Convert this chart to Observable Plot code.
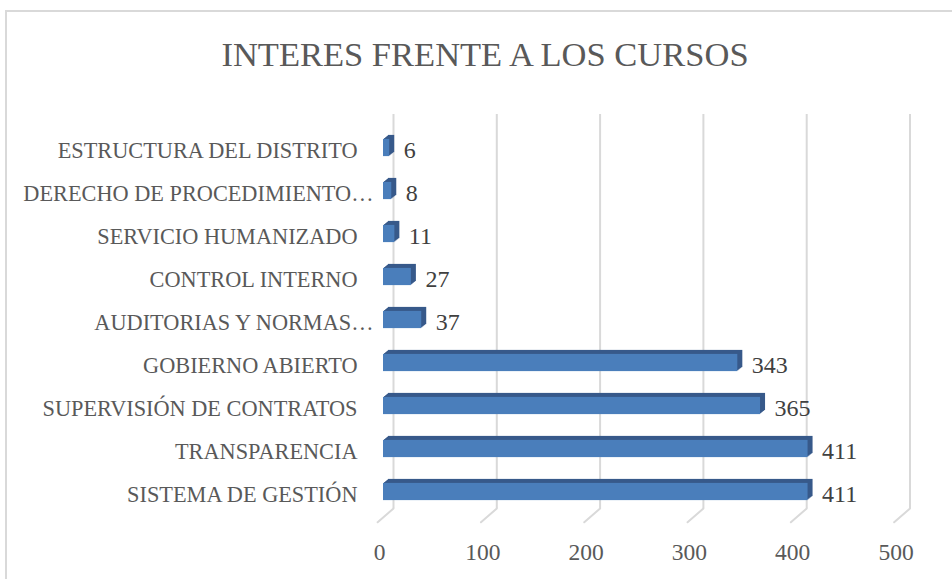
<!DOCTYPE html>
<html><head><meta charset="utf-8">
<script src="https://cdn.jsdelivr.net/npm/d3@7"></script>
<script src="https://cdn.jsdelivr.net/npm/@observablehq/plot@0.6"></script>
<style>
html,body{margin:0;padding:0;background:#fff;width:952px;height:579px;overflow:hidden;}
#frame{position:absolute;left:5px;top:10px;width:1000px;height:1000px;border-left:2px solid #d9d9d9;border-top:2px solid #d9d9d9;}
#title{position:absolute;left:0;width:970px;top:37px;text-align:center;font-family:"Liberation Serif";font-size:34.5px;line-height:34px;color:#595959;white-space:nowrap;}
#chart{position:absolute;left:0;top:90px;}
</style></head><body>
<div id="frame"></div>
<div id="title">INTERES FRENTE A LOS CURSOS</div>
<div id="chart"></div>
<script>
const categories = [
  "ESTRUCTURA DEL DISTRITO",
  "DERECHO DE PROCEDIMIENTO…",
  "SERVICIO HUMANIZADO",
  "CONTROL INTERNO",
  "AUDITORIAS Y NORMAS…",
  "GOBIERNO ABIERTO",
  "SUPERVISIÓN DE CONTRATOS",
  "TRANSPARENCIA",
  "SISTEMA DE GESTIÓN"
];
const values = [6, 8, 11, 27, 37, 343, 365, 411, 411];
const xTicks = [0, 100, 200, 300, 400, 500];

const data = categories.map((c, i) => ({cat: c, value: values[i]}));
const fullLabels = categories.filter(c => !c.endsWith("…"));
const cutLabels = categories.filter(c => c.endsWith("…"));
const inset = 12.9;
const extrude = [1, 2, 3, 4, 5].map(k =>
  Plot.barX(data, {x: "value", y: "cat", fill: "#37598a", insetTop: inset, insetBottom: inset, dx: k, dy: -0.8 * k})
);

const chart = Plot.plot({
  width: 952,
  height: 489,
  marginLeft: 383,
  marginRight: 52.5,
  marginTop: 24,
  marginBottom: 71,
  style: {fontFamily: "Liberation Serif", fontSize: "22px", color: "#595959", background: "transparent"},
  x: {domain: [0, 500]},
  y: {domain: categories, range: [32.6, 426.9], padding: 0},
  marks: [
    Plot.ruleX(xTicks, {x: d => d, dx: 10, stroke: "#d9d9d9", strokeWidth: 2}),
    Plot.vector(xTicks, {x: d => d, frameAnchor: "bottom", dx: 10, length: 21, rotate: 229, anchor: "start", r: 0, stroke: "#d9d9d9", strokeWidth: 2}),
    ...extrude,
    Plot.barX(data, {x: "value", y: "cat", fill: "#4a7ebb", insetTop: inset, insetBottom: inset}),
    Plot.text(data, {x: "value", y: "cat", text: d => String(d.value), dx: 14, dy: 2, textAnchor: "start", fontSize: 24, fill: "#404040"}),
    Plot.axisY({ticks: fullLabels, tickSize: 0, tickPadding: 26, fontSize: 22.3, dy: 3, label: null}),
    Plot.axisY({ticks: cutLabels, tickSize: 0, tickPadding: 10, fontSize: 22.3, dy: 3, label: null}),
    Plot.axisX({ticks: xTicks, tickSize: 0, tickPadding: 35, fontSize: 23.5, dx: -4, label: null, tickFormat: d => String(d)})
  ]
});
document.getElementById("chart").appendChild(chart);
</script>
</body></html>
